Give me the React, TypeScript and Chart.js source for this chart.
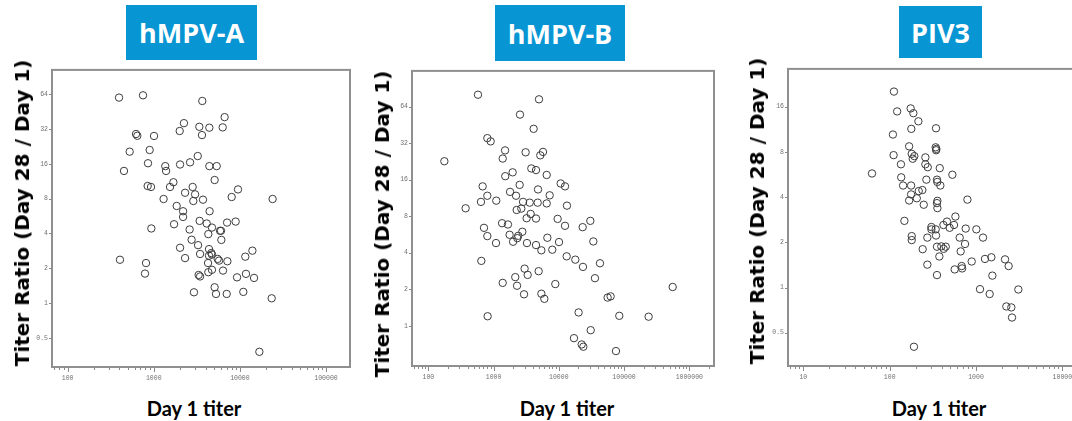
import React, { useEffect, useRef } from "react";
import { Chart, registerables } from "chart.js";
Chart.register(...registerables);

// ---------- Data: hMPV-A ----------
const hmpvATiter = [395, 750, 3660, 6650, 2240, 2000, 3380, 4420, 6310, 3630, 622, 644, 1007, 525, 896, 3240, 2640, 2020, 857, 1360, 1390, 4420, 5380, 451, 5090, 1690, 849, 929, 1545, 2830, 2310, 3020, 9510, 8030, 1300, 2880, 3730, 24000, 1845, 2190, 4450, 2190, 3410, 4120, 1720, 7100, 8930, 4740, 937, 2610, 5880, 6040, 4300, 2750, 6090, 3270, 2020, 4380, 13970, 4660, 3450, 4740, 4380, 11560, 2310, 5520, 5730, 7160, 405, 813, 4270, 4740, 6370, 4300, 791, 3320, 3450, 11770, 9270, 14600, 5090, 2930, 5280, 7030, 10960, 23400, 16830];
const hmpvARatio = [59.9, 62.7, 56, 40.6, 36, 30.8, 33.5, 32.9, 33.1, 28.4, 29, 28, 27.9, 20.4, 21.1, 18.7, 16.5, 15.8, 16.2, 15.3, 13.9, 15.3, 15.3, 13.9, 11.6, 11.1, 10.3, 10.1, 10.1, 10.1, 9.0, 8.72, 9.62, 8.27, 7.95, 7.64, 7.84, 7.95, 6.92, 6.23, 6.23, 5.56, 5.14, 4.88, 4.81, 4.97, 5.07, 4.5, 4.42, 4.33, 4.22, 4.22, 3.95, 3.53, 3.52, 3.17, 3.01, 2.93, 2.84, 2.71, 2.66, 2.63, 2.57, 2.52, 2.45, 2.41, 2.33, 2.30, 2.37, 2.22, 2.22, 1.94, 1.91, 1.85, 1.80, 1.75, 1.70, 1.79, 1.67, 1.65, 1.37, 1.24, 1.20, 1.20, 1.25, 1.10, 0.379];

// ---------- Data: hMPV-B ----------
const hmpvBTiter = [577, 4970, 2540, 4110, 802, 902, 1500, 3100, 5720, 5200, 1380, 176, 3790, 4470, 1960, 1510, 6520, 10670, 12440, 680, 2510, 4800, 1790, 2210, 802, 7240, 641, 1100, 2830, 3580, 4740, 6520, 13330, 373, 2260, 2660, 3700, 3210, 4470, 9590, 30400, 1350, 1660, 12440, 23200, 713, 2760, 1760, 2390, 2310, 802, 6670, 1990, 10070, 33800, 1090, 3250, 4470, 5400, 7940, 649, 13190, 17900, 42750, 23440, 2990, 4910, 3330, 2150, 35800, 1380, 2290, 8830, 556000, 2930, 5400, 6000, 56000, 62200, 20100, 811, 84500, 238000, 30800, 17070, 22400, 23750, 75100];
const hmpvBRatio = [80.2, 73.5, 55, 42, 35.2, 33.1, 27.9, 26.9, 27.1, 25.4, 23.9, 22.7, 19.8, 19.2, 18.4, 17.1, 17.5, 14.9, 14.1, 14.1, 14.5, 13.3, 12.7, 11.8, 11.8, 11.9, 10.5, 10.75, 10.5, 10.35, 10.35, 10.2, 9.78, 9.3, 9.01, 9.25, 8.36, 7.7, 7.66, 7.61, 7.33, 7.01, 6.84, 6.67, 6.5, 6.42, 5.96, 5.63, 5.52, 5.28, 5.49, 5.32, 4.93, 4.9, 4.96, 4.81, 4.81, 4.63, 4.19, 4.24, 3.43, 3.74, 3.51, 3.28, 3.06, 2.96, 2.82, 2.63, 2.52, 2.47, 2.26, 2.14, 2.21, 2.09, 1.82, 1.84, 1.67, 1.71, 1.75, 1.29, 1.2, 1.21, 1.19, 0.921, 0.792, 0.703, 0.673, 0.62];

// ---------- Data: PIV3 ----------
const piv3Titer = [112, 122, 175, 188, 215, 109, 178, 344, 168, 341, 347, 345, 111, 180, 193, 185, 259, 135, 259, 276, 380, 62.4, 532, 136, 266, 353, 356, 143, 177, 386, 239, 217, 177, 206, 168, 357, 353, 795, 248, 357, 148, 577, 461, 419, 556, 495, 304, 304, 341, 759, 1009, 180, 180, 273, 344, 647, 1205, 746, 353, 396, 446, 422, 241, 664, 376, 1270, 1506, 2168, 891, 273, 2387, 682, 690, 566, 353, 1546, 1112, 3091, 1439, 2244, 2563, 2612, 191];
const piv3Ratio = [20.2, 14.9, 15.6, 14.5, 12.8, 10.45, 11.4, 11.5, 8.72, 8.59, 8.38, 8.21, 7.62, 7.77, 7.5, 7.21, 7.36, 6.62, 6.62, 6.33, 6.24, 5.75, 5.64, 5.42, 5.23, 5.23, 5.05, 4.78, 4.78, 4.78, 4.46, 4.39, 4.17, 3.93, 3.8, 3.78, 3.65, 3.85, 3.56, 3.38, 2.78, 2.97, 2.75, 2.61, 2.61, 2.5, 2.53, 2.44, 2.44, 2.47, 2.44, 2.2, 2.07, 2.15, 2.22, 2.15, 2.15, 1.95, 1.87, 1.88, 1.87, 1.81, 1.8, 1.74, 1.61, 1.55, 1.59, 1.54, 1.49, 1.42, 1.39, 1.39, 1.34, 1.32, 1.21, 1.2, 0.975, 0.97, 0.905, 0.748, 0.737, 0.631, 0.403];

// ---------- Tick values ----------
const aXTicks = [100, 1000, 10000, 100000];
const bXTicks = [100, 1000, 10000, 100000, 1000000];
const cXTicks = [10, 100, 1000, 10000];
const aYTicks = [0.5, 1, 2, 4, 8, 16, 32, 64];
const bYTicks = [1, 2, 4, 8, 16, 32, 64];
const cYTicks = [0.5, 1, 2, 4, 8, 16];

const panelTitles = ["hMPV-A", "hMPV-B", "PIV3"];
const yAxisTitle = "Titer Ratio (Day 28 / Day 1)";
const xAxisTitle = "Day 1 titer";

type PanelCfg = {
  xs: number[];
  ys: number[];
  xMajor: number[];
  yTicks: number[];
  xMin: number;
  xMax: number;
  yMin: number;
  yMax: number;
  left: number;
  top: number;
  width: number;
  height: number;
};

const PAD_L = 45;
const PAD_T = 6;
const PAD_R = 6;
const PAD_B = 24;

function buildXTicks(major: number[], min: number, max: number) {
  const out: { value: number }[] = [];
  const first = major[0] / 10;
  for (let d = first; d <= major[major.length - 1] * 10; d *= 10) {
    for (let m = 1; m <= 9; m++) {
      const v = Math.round(m * d * 1000) / 1000;
      if (v >= min && v <= max) out.push({ value: v });
    }
  }
  return out;
}

function isMajor(v: number, major: number[]) {
  return major.some((m) => Math.abs(m - v) / m < 1e-6);
}

function ScatterPanel({ cfg }: { cfg: PanelCfg }) {
  const ref = useRef<HTMLCanvasElement>(null);
  const W = cfg.width + PAD_L + PAD_R;
  const H = cfg.height + PAD_T + PAD_B;
  useEffect(() => {
    const canvas = ref.current!;
    const framePlugin = {
      id: "frame",
      afterDraw(chart: any) {
        const { ctx, chartArea: a, scales } = chart;
        ctx.save();
        ctx.strokeStyle = "#8a8a8a";
        ctx.lineWidth = 1;
        ctx.beginPath();
        for (const t of scales.x.ticks) {
          const x = Math.round(scales.x.getPixelForValue(t.value)) + 0.5;
          const len = isMajor(t.value, cfg.xMajor) ? 5 : 3;
          ctx.moveTo(x, a.bottom);
          ctx.lineTo(x, a.bottom + len);
        }
        for (const t of scales.y.ticks) {
          const y = Math.round(scales.y.getPixelForValue(t.value)) + 0.5;
          ctx.moveTo(a.left - 3, y);
          ctx.lineTo(a.left, y);
        }
        ctx.stroke();
        ctx.lineWidth = 2;
        ctx.strokeStyle = "#8f8f8f";
        ctx.strokeRect(a.left, a.top, a.right - a.left, a.bottom - a.top);
        ctx.restore();
      },
    };
    const chart = new Chart(canvas, {
      type: "scatter",
      data: {
        datasets: [
          {
            data: cfg.xs.map((x, i) => ({ x, y: cfg.ys[i] })),
            pointRadius: 3.7,
            pointHoverRadius: 3.7,
            pointBorderWidth: 1,
            pointBorderColor: "#3c3c3c",
            pointBackgroundColor: "rgba(0,0,0,0)",
          },
        ],
      },
      options: {
        animation: false,
        responsive: false,
        devicePixelRatio: 1,
        layout: {
          padding: { top: PAD_T, right: PAD_R, left: 0, bottom: 0 },
          autoPadding: false,
        },
        plugins: { legend: { display: false }, tooltip: { enabled: false } },
        scales: {
          x: {
            type: "logarithmic",
            min: cfg.xMin,
            max: cfg.xMax,
            grid: { display: false, drawTicks: false },
            border: { display: false },
            afterBuildTicks: (s: any) => {
              s.ticks = buildXTicks(cfg.xMajor, cfg.xMin, cfg.xMax);
            },
            afterFit: (s: any) => {
              s.height = PAD_B;
            },
            ticks: {
              autoSkip: false,
              maxRotation: 0,
              padding: 7,
              color: "#707070",
              font: { family: "'Liberation Mono', monospace", size: 6.5 },
              callback: (v: any) => (isMajor(Number(v), cfg.xMajor) ? String(v) : ""),
            },
          },
          y: {
            type: "logarithmic",
            min: cfg.yMin,
            max: cfg.yMax,
            grid: { display: false, drawTicks: false },
            border: { display: false },
            afterBuildTicks: (s: any) => {
              s.ticks = cfg.yTicks.map((v) => ({ value: v }));
            },
            afterFit: (s: any) => {
              s.width = PAD_L;
            },
            ticks: {
              autoSkip: false,
              padding: 4,
              color: "#707070",
              font: { family: "'Liberation Mono', monospace", size: 6.5 },
              callback: (v: any) => String(v),
            },
          },
        },
      } as any,
      plugins: [framePlugin],
    });
    return () => chart.destroy();
  }, []);
  return (
    <canvas
      ref={ref}
      width={W}
      height={H}
      style={{
        position: "absolute",
        left: cfg.left - PAD_L,
        top: cfg.top - PAD_T,
        width: W,
        height: H,
      }}
    />
  );
}

const panels: PanelCfg[] = [
  {
    xs: hmpvATiter, ys: hmpvARatio, xMajor: aXTicks, yTicks: aYTicks,
    xMin: 65.8, xMax: 190000, yMin: 0.28, yMax: 104,
    left: 52, top: 68, width: 298, height: 299,
  },
  {
    xs: hmpvBTiter, ys: hmpvBRatio, xMajor: bXTicks, yTicks: bYTicks,
    xMin: 56.2, xMax: 2390000, yMin: 0.467, yMax: 126,
    left: 412, top: 69, width: 302, height: 297,
  },
  {
    xs: piv3Titer, ys: piv3Ratio, xMajor: cXTicks, yTicks: cYTicks,
    xMin: 6.64, xMax: 20900, yMin: 0.319, yMax: 28.6,
    left: 788, top: 67, width: 302, height: 299,
  },
];

const titleBoxes = [
  { left: 126, top: 5, width: 131, height: 55 },
  { left: 495, top: 5, width: 130, height: 56 },
  { left: 899, top: 6, width: 83, height: 52 },
];
const yTitlePos = [
  { cx: 22, cy: 213 },
  { cx: 382, cy: 224 },
  { cx: 757, cy: 211 },
];
const xTitlePos = [
  { cx: 194, cy: 408 },
  { cx: 567, cy: 408 },
  { cx: 939, cy: 408 },
];

export default function App() {
  return (
    <div
      style={{
        position: "absolute",
        left: 0,
        top: 0,
        width: 1072,
        height: 421,
        overflow: "hidden",
        background: "#ffffff",
      }}
    >
      {panels.map((p, i) => (
        <ScatterPanel key={i} cfg={p} />
      ))}
      {titleBoxes.map((b, i) => (
        <div
          key={"t" + i}
          style={{
            position: "absolute",
            left: b.left,
            top: b.top,
            width: b.width,
            height: b.height,
            background: "#0895d3",
            color: "#ffffff",
            display: "flex",
            alignItems: "center",
            justifyContent: "center",
            fontFamily: "'Open Sans', sans-serif",
            fontWeight: 700,
            fontSize: 27,
          }}
        >
          {panelTitles[i]}
        </div>
      ))}
      {yTitlePos.map((p, i) => (
        <div
          key={"y" + i}
          style={{
            position: "absolute",
            left: p.cx,
            top: p.cy,
            transform: "translate(-50%, -50%) rotate(-90deg)",
            whiteSpace: "nowrap",
            fontFamily: "'DejaVu Sans', sans-serif",
            fontWeight: 700,
            fontSize: 20,
            color: "#000",
            lineHeight: 1,
          }}
        >
          {yAxisTitle}
        </div>
      ))}
      {xTitlePos.map((p, i) => (
        <div
          key={"x" + i}
          style={{
            position: "absolute",
            left: p.cx,
            top: p.cy,
            transform: "translate(-50%, -50%)",
            whiteSpace: "nowrap",
            fontFamily: "Lato, sans-serif",
            fontWeight: 700,
            fontSize: 20,
            color: "#000",
            lineHeight: 1,
          }}
        >
          {xAxisTitle}
        </div>
      ))}
    </div>
  );
}
